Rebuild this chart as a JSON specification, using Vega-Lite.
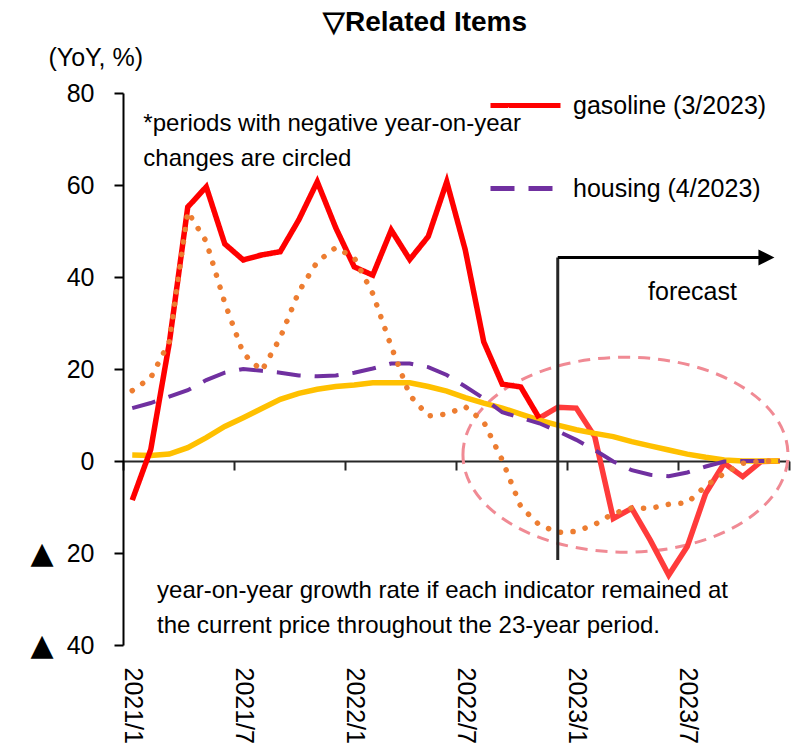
{
  "$schema": "https://vega.github.io/schema/vega-lite/v6.json",
  "width": 666,
  "height": 552,
  "autosize": {"type": "none"},
  "padding": {"left": 123, "top": 93, "right": 5, "bottom": 104},
  "background": "white",
  "config": {"view": {"stroke": null}, "font": "Liberation Sans"},
  "datasets": {
    "series": [
      {"s": "gasoline (3/2023)", "i": 0, "v": -8.5}, {"s": "gasoline (3/2023)", "i": 1, "v": 2.5}, {"s": "gasoline (3/2023)", "i": 2, "v": 25.6}, {"s": "gasoline (3/2023)", "i": 3, "v": 55.2}, {"s": "gasoline (3/2023)", "i": 4, "v": 59.6}, {"s": "gasoline (3/2023)", "i": 5, "v": 47.2}, {"s": "gasoline (3/2023)", "i": 6, "v": 43.7}, {"s": "gasoline (3/2023)", "i": 7, "v": 44.8}, {"s": "gasoline (3/2023)", "i": 8, "v": 45.5}, {"s": "gasoline (3/2023)", "i": 9, "v": 52.4}, {"s": "gasoline (3/2023)", "i": 10, "v": 60.7}, {"s": "gasoline (3/2023)", "i": 11, "v": 50.7},
      {"s": "gasoline (3/2023)", "i": 12, "v": 42.2}, {"s": "gasoline (3/2023)", "i": 13, "v": 40.4}, {"s": "gasoline (3/2023)", "i": 14, "v": 50.2}, {"s": "gasoline (3/2023)", "i": 15, "v": 43.8}, {"s": "gasoline (3/2023)", "i": 16, "v": 48.8}, {"s": "gasoline (3/2023)", "i": 17, "v": 60.7}, {"s": "gasoline (3/2023)", "i": 18, "v": 45.9}, {"s": "gasoline (3/2023)", "i": 19, "v": 25.9}, {"s": "gasoline (3/2023)", "i": 20, "v": 16.7}, {"s": "gasoline (3/2023)", "i": 21, "v": 16.1}, {"s": "gasoline (3/2023)", "i": 22, "v": 9.3}, {"s": "gasoline (3/2023)", "i": 23, "v": 11.7},
      {"s": "gasoline (3/2023)", "i": 24, "v": 11.5}, {"s": "gasoline (3/2023)", "i": 25, "v": 5.3}, {"s": "gasoline (3/2023)", "i": 26, "v": -12.5}, {"s": "gasoline (3/2023)", "i": 27, "v": -10.3}, {"s": "gasoline (3/2023)", "i": 28, "v": -17.2}, {"s": "gasoline (3/2023)", "i": 29, "v": -24.8}, {"s": "gasoline (3/2023)", "i": 30, "v": -18.6}, {"s": "gasoline (3/2023)", "i": 31, "v": -7.0}, {"s": "gasoline (3/2023)", "i": 32, "v": -0.5}, {"s": "gasoline (3/2023)", "i": 33, "v": -3.4}, {"s": "gasoline (3/2023)", "i": 34, "v": -0.1}, {"s": "gasoline (3/2023)", "i": 35, "v": 0},
      {"s": "housing (4/2023)", "i": 0, "v": 11.5}, {"s": "housing (4/2023)", "i": 1, "v": 12.6}, {"s": "housing (4/2023)", "i": 2, "v": 14.0}, {"s": "housing (4/2023)", "i": 3, "v": 15.4}, {"s": "housing (4/2023)", "i": 4, "v": 17.6}, {"s": "housing (4/2023)", "i": 5, "v": 19.2}, {"s": "housing (4/2023)", "i": 6, "v": 20.0}, {"s": "housing (4/2023)", "i": 7, "v": 19.6}, {"s": "housing (4/2023)", "i": 8, "v": 19.2}, {"s": "housing (4/2023)", "i": 9, "v": 18.6}, {"s": "housing (4/2023)", "i": 10, "v": 18.4}, {"s": "housing (4/2023)", "i": 11, "v": 18.6},
      {"s": "housing (4/2023)", "i": 12, "v": 19.2}, {"s": "housing (4/2023)", "i": 13, "v": 20.1}, {"s": "housing (4/2023)", "i": 14, "v": 21.2}, {"s": "housing (4/2023)", "i": 15, "v": 21.2}, {"s": "housing (4/2023)", "i": 16, "v": 20.4}, {"s": "housing (4/2023)", "i": 17, "v": 18.7}, {"s": "housing (4/2023)", "i": 18, "v": 16.2}, {"s": "housing (4/2023)", "i": 19, "v": 13.6}, {"s": "housing (4/2023)", "i": 20, "v": 10.6}, {"s": "housing (4/2023)", "i": 21, "v": 9.4}, {"s": "housing (4/2023)", "i": 22, "v": 8.2}, {"s": "housing (4/2023)", "i": 23, "v": 6.5},
      {"s": "housing (4/2023)", "i": 24, "v": 4.6}, {"s": "housing (4/2023)", "i": 25, "v": 2.4}, {"s": "housing (4/2023)", "i": 26, "v": -0.1}, {"s": "housing (4/2023)", "i": 27, "v": -2.0}, {"s": "housing (4/2023)", "i": 28, "v": -3.0}, {"s": "housing (4/2023)", "i": 29, "v": -3.3}, {"s": "housing (4/2023)", "i": 30, "v": -2.5}, {"s": "housing (4/2023)", "i": 31, "v": -1.2}, {"s": "housing (4/2023)", "i": 32, "v": -0.1}, {"s": "housing (4/2023)", "i": 33, "v": 0}, {"s": "housing (4/2023)", "i": 34, "v": 0}, {"s": "housing (4/2023)", "i": 35, "v": 0},
      {"s": "item C", "i": 0, "v": 15.3}, {"s": "item C", "i": 1, "v": 18.1}, {"s": "item C", "i": 2, "v": 25.9}, {"s": "item C", "i": 3, "v": 54.2}, {"s": "item C", "i": 4, "v": 47.7}, {"s": "item C", "i": 5, "v": 34.4}, {"s": "item C", "i": 6, "v": 23.4}, {"s": "item C", "i": 7, "v": 19.6}, {"s": "item C", "i": 8, "v": 26.8}, {"s": "item C", "i": 9, "v": 36.8}, {"s": "item C", "i": 10, "v": 43.3}, {"s": "item C", "i": 11, "v": 46.4},
      {"s": "item C", "i": 12, "v": 44.2}, {"s": "item C", "i": 13, "v": 36.4}, {"s": "item C", "i": 14, "v": 24.9}, {"s": "item C", "i": 15, "v": 14.3}, {"s": "item C", "i": 16, "v": 9.8}, {"s": "item C", "i": 17, "v": 10.2}, {"s": "item C", "i": 18, "v": 11.8}, {"s": "item C", "i": 19, "v": 8.5}, {"s": "item C", "i": 20, "v": 0.2}, {"s": "item C", "i": 21, "v": -9.9}, {"s": "item C", "i": 22, "v": -13.9}, {"s": "item C", "i": 23, "v": -15.5},
      {"s": "item C", "i": 24, "v": -15.3}, {"s": "item C", "i": 25, "v": -13.8}, {"s": "item C", "i": 26, "v": -11.4}, {"s": "item C", "i": 27, "v": -10.2}, {"s": "item C", "i": 28, "v": -10.3}, {"s": "item C", "i": 29, "v": -9.4}, {"s": "item C", "i": 30, "v": -9.1}, {"s": "item C", "i": 31, "v": -5.4}, {"s": "item C", "i": 32, "v": -2.7}, {"s": "item C", "i": 33, "v": -0.5}, {"s": "item C", "i": 34, "v": 0}, {"s": "item C", "i": 35, "v": 0},
      {"s": "item D", "i": 0, "v": 1.3}, {"s": "item D", "i": 1, "v": 1.2}, {"s": "item D", "i": 2, "v": 1.5}, {"s": "item D", "i": 3, "v": 2.9}, {"s": "item D", "i": 4, "v": 5.1}, {"s": "item D", "i": 5, "v": 7.5}, {"s": "item D", "i": 6, "v": 9.4}, {"s": "item D", "i": 7, "v": 11.4}, {"s": "item D", "i": 8, "v": 13.4}, {"s": "item D", "i": 9, "v": 14.7}, {"s": "item D", "i": 10, "v": 15.6}, {"s": "item D", "i": 11, "v": 16.2},
      {"s": "item D", "i": 12, "v": 16.5}, {"s": "item D", "i": 13, "v": 17.0}, {"s": "item D", "i": 14, "v": 17.0}, {"s": "item D", "i": 15, "v": 17.0}, {"s": "item D", "i": 16, "v": 16.2}, {"s": "item D", "i": 17, "v": 15.2}, {"s": "item D", "i": 18, "v": 13.8}, {"s": "item D", "i": 19, "v": 12.6}, {"s": "item D", "i": 20, "v": 11.5}, {"s": "item D", "i": 21, "v": 10.2}, {"s": "item D", "i": 22, "v": 8.9}, {"s": "item D", "i": 23, "v": 7.8},
      {"s": "item D", "i": 24, "v": 6.8}, {"s": "item D", "i": 25, "v": 6.0}, {"s": "item D", "i": 26, "v": 5.3}, {"s": "item D", "i": 27, "v": 4.2}, {"s": "item D", "i": 28, "v": 3.3}, {"s": "item D", "i": 29, "v": 2.4}, {"s": "item D", "i": 30, "v": 1.5}, {"s": "item D", "i": 31, "v": 0.8}, {"s": "item D", "i": 32, "v": 0.2}, {"s": "item D", "i": 33, "v": 0}, {"s": "item D", "i": 34, "v": 0}, {"s": "item D", "i": 35, "v": 0}
    ]
  },
  "data": {"name": "series"},
  "layer": [
    {
      "data": {"values": [{}]},
      "mark": {"type": "point", "shape": "M-1,0C-1,-0.3314,-0.5523,-0.6,0,-0.6C0.5523,-0.6,1,-0.3314,1,0C1,0.3314,0.5523,0.6,0,0.6C-0.5523,0.6,-1,0.3314,-1,0Z", "size": 105625, "filled": false, "stroke": "#F08A94", "strokeWidth": 3, "strokeDash": [12, 8], "opacity": 1},
      "encoding": {
        "x": {"datum": 26.66, "type": "quantitative", "axis": null},
        "y": {"datum": 1.37, "type": "quantitative", "axis": null}
      }
    },
    {
      "transform": [{"filter": "datum.s === 'gasoline (3/2023)' && datum.i >= 22"}],
      "mark": {"type": "line", "color": "#FF3B3B", "strokeWidth": 5.5},
      "encoding": {
        "x": {"field": "i", "type": "quantitative", "scale": {"domain": [-0.5, 35.5], "nice": false, "zero": false},
          "axis": {"orient": "bottom", "values": [0, 6, 12, 18, 24, 30], "labelExpr": "(2021 + floor(datum.value / 12)) + '/' + (datum.value % 12 + 1)", "labelAngle": 90, "labelAlign": "left", "labelBaseline": "middle", "labelFontSize": 25, "labelColor": "black", "labelPadding": 22, "domain": false, "ticks": false, "tickSize": 0, "grid": false, "title": null, "labelFont": "Liberation Sans"}},
        "y": {"field": "v", "type": "quantitative", "scale": {"domain": [-40, 80], "nice": false, "zero": false},
          "axis": {"orient": "left", "values": [-40, -20, 0, 20, 40, 60, 80], "labelExpr": "'' + abs(datum.value)", "labelFontSize": 25, "labelColor": "black", "labelPadding": 20, "tickSize": 9, "tickWidth": 2, "tickColor": "black", "domainColor": "black", "domainWidth": 2, "grid": false, "labelFont": "Liberation Sans",
            "title": "(YoY, %)", "titleFontSize": 25, "titleFontWeight": "normal", "titleColor": "black", "titleFont": "Liberation Sans", "titleAngle": 0, "titleAlign": "left", "titleBaseline": "alphabetic", "titleX": -75, "titleY": -28}}
      }
    },
    {
      "transform": [{"filter": "datum.s === 'item D'"}],
      "mark": {"type": "line", "color": "#FFC000", "strokeWidth": 5.5},
      "encoding": {
        "x": {"field": "i", "type": "quantitative",
          "axis": {"orient": "bottom", "offset": -184, "values": [-0.5, 5.5, 11.5, 17.5, 23.5, 29.5, 35.5], "labels": false, "ticks": true, "tickSize": 9, "tickWidth": 2, "tickColor": "#262626", "domain": true, "domainColor": "#262626", "domainWidth": 2, "grid": false, "title": null}},
        "y": {"field": "v", "type": "quantitative",
          "axis": {"orient": "left", "values": [-40, -20], "labelExpr": "'▲'", "labelFont": "DejaVu Sans", "labelFontSize": 30, "labelColor": "black", "labelPadding": 70, "ticks": false, "tickSize": 0, "domain": false, "grid": false, "title": null}}
      }
    },
    {
      "transform": [{"filter": "datum.s === 'housing (4/2023)'"}],
      "mark": {"type": "line", "strokeWidth": 4},
      "encoding": {
        "x": {"field": "i", "type": "quantitative", "axis": null},
        "y": {"field": "v", "type": "quantitative", "axis": null},
        "color": {"field": "s", "type": "nominal", "scale": {"domain": ["gasoline (3/2023)", "housing (4/2023)"], "range": ["#FF0000", "#7030A0"]},
          "legend": {"orient": "none", "legendX": 365, "legendY": -25, "title": null, "symbolType": "stroke", "symbolSize": 4900, "symbolStrokeWidth": 5, "labelFontSize": 25, "labelFont": "Liberation Sans", "labelColor": "black", "labelOffset": 10, "rowPadding": 32, "padding": 0, "labelLimit": 400}},
        "strokeDash": {"field": "s", "type": "nominal", "scale": {"domain": ["gasoline (3/2023)", "housing (4/2023)"], "range": [[1, 0], [24, 14]]},
          "legend": {"orient": "none", "legendX": 365, "legendY": -25, "title": null, "symbolType": "stroke", "symbolSize": 4900, "symbolStrokeWidth": 5, "labelFontSize": 25, "labelFont": "Liberation Sans", "labelColor": "black", "labelOffset": 10, "rowPadding": 32, "padding": 0, "labelLimit": 400}}
      }
    },
    {
      "transform": [{"filter": "datum.s === 'gasoline (3/2023)' && datum.i <= 22"}],
      "mark": {"type": "line", "strokeWidth": 5.5},
      "encoding": {
        "x": {"field": "i", "type": "quantitative", "axis": null},
        "y": {"field": "v", "type": "quantitative", "axis": null},
        "color": {"field": "s", "type": "nominal"},
        "strokeDash": {"field": "s", "type": "nominal"}
      }
    },
    {
      "transform": [{"filter": "datum.s === 'item C'"}],
      "mark": {"type": "line", "color": "#ED7D31", "strokeWidth": 5.5, "strokeDash": [0.1, 12.5], "strokeCap": "round"},
      "encoding": {
        "x": {"field": "i", "type": "quantitative", "axis": null},
        "y": {"field": "v", "type": "quantitative", "axis": null}
      }
    },
    {
      "data": {"values": [{}]},
      "mark": {"type": "rule", "color": "#262626", "strokeWidth": 3},
      "encoding": {
        "x": {"datum": 23, "type": "quantitative", "axis": null},
        "y": {"datum": 44.25, "type": "quantitative", "axis": null},
        "y2": {"datum": -21.5}
      }
    },
    {
      "data": {"values": [{}]},
      "mark": {"type": "rule", "color": "black", "strokeWidth": 3},
      "encoding": {
        "x": {"datum": 23, "type": "quantitative", "axis": null},
        "x2": {"datum": 33.95},
        "y": {"datum": 44.25, "type": "quantitative", "axis": null}
      }
    },
    {
      "data": {"values": [{}]},
      "mark": {"type": "point", "shape": "M-1,-1L1,0L-1,1Z", "size": 256, "filled": true, "color": "black", "opacity": 1},
      "encoding": {
        "x": {"datum": 34.28, "type": "quantitative", "axis": null},
        "y": {"datum": 44.25, "type": "quantitative", "axis": null}
      }
    },
    {
      "data": {"values": [{}]},
      "mark": {"type": "text", "align": "left", "baseline": "alphabetic", "fontSize": 28, "fontWeight": "bold", "color": "black", "font": "Liberation Sans"},
      "encoding": {
        "x": {"datum": 10.31, "type": "quantitative", "axis": null},
        "y": {"datum": 93.4, "type": "quantitative", "axis": null},
        "text": {"value": "▽Related Items"}
      }
    },
    {
      "data": {"values": [{}]},
      "mark": {"type": "text", "align": "left", "baseline": "alphabetic", "fontSize": 24, "lineHeight": 35, "color": "black", "font": "Liberation Sans"},
      "encoding": {
        "x": {"datum": 0.6, "type": "quantitative", "axis": null},
        "y": {"datum": 71.8, "type": "quantitative", "axis": null},
        "text": {"value": ["*periods with negative year-on-year", "changes are circled"]}
      }
    },
    {
      "data": {"values": [{}]},
      "mark": {"type": "text", "align": "left", "baseline": "alphabetic", "fontSize": 25, "color": "black", "font": "Liberation Sans"},
      "encoding": {
        "x": {"datum": 27.88, "type": "quantitative", "axis": null},
        "y": {"datum": 34.9, "type": "quantitative", "axis": null},
        "text": {"value": "forecast"}
      }
    },
    {
      "data": {"values": [{}]},
      "mark": {"type": "text", "align": "left", "baseline": "alphabetic", "fontSize": 24, "lineHeight": 35, "color": "black", "font": "Liberation Sans"},
      "encoding": {
        "x": {"datum": 1.34, "type": "quantitative", "axis": null},
        "y": {"datum": -29.8, "type": "quantitative", "axis": null},
        "text": {"value": ["year-on-year growth rate if each indicator remained at", "the current price throughout the 23-year period."]}
      }
    }
  ],
  "resolve": {"axis": {"x": "independent", "y": "independent"}}
}
